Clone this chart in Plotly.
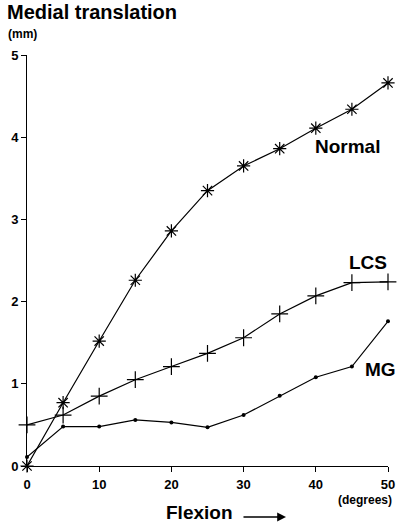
import plotly.graph_objects as go

flexion = [0, 5, 10, 15, 20, 25, 30, 35, 40, 45, 50]
normal = [0.0, 0.77, 1.52, 2.26, 2.86, 3.35, 3.65, 3.86, 4.11, 4.34, 4.66]
lcs = [0.50, 0.62, 0.85, 1.05, 1.21, 1.37, 1.56, 1.85, 2.07, 2.23, 2.24]
mg = [0.11, 0.48, 0.48, 0.56, 0.53, 0.47, 0.62, 0.855, 1.08, 1.21, 1.76]
x_ticks = [0, 10, 20, 30, 40, 50]
y_ticks = [0, 1, 2, 3, 4, 5]

FONT = "Liberation Sans"
L, R, T, B, W, H = 27, 7, 55, 59, 402, 525
PW, PH = W - L - R, H - T - B


def px(xp):
    return (xp - L) / PW


def py(yp):
    return (H - B - yp) / PH


fig = go.Figure()
fig.add_trace(go.Scatter(x=flexion, y=normal, mode="lines+markers",
                         line=dict(color="black", width=1.2),
                         marker=dict(symbol="asterisk-open", size=11,
                                     line=dict(color="black", width=1.2)),
                         cliponaxis=False, name="Normal"))
fig.add_trace(go.Scatter(x=flexion, y=lcs, mode="lines+markers",
                         line=dict(color="black", width=1.2),
                         marker=dict(symbol="cross-thin-open", size=12,
                                     line=dict(color="black", width=1.2)),
                         cliponaxis=False, name="LCS"))
fig.add_trace(go.Scatter(x=flexion, y=mg, mode="lines+markers",
                         line=dict(color="black", width=1.2),
                         marker=dict(symbol="circle", size=4, color="black"),
                         cliponaxis=False, name="MG"))

fig.update_layout(
    width=W, height=H, showlegend=False,
    margin=dict(l=L, r=R, t=T, b=B),
    paper_bgcolor="white", plot_bgcolor="white",
    font=dict(family=FONT, color="black"),
)
fig.update_xaxes(range=[0, 50], tickvals=x_ticks, ticks="outside", ticklen=5,
                 tickwidth=1, tickcolor="black", showline=True, linecolor="black",
                 linewidth=1, showgrid=False, zeroline=False,
                 ticklabeloverflow="allow", ticklabelstandoff=1,
                 tickfont=dict(family=FONT, size=13, weight="bold"))
fig.update_yaxes(range=[0, 5], tickvals=y_ticks, ticks="outside", ticklen=5,
                 tickwidth=1, tickcolor="black", showline=True, linecolor="black",
                 linewidth=1, showgrid=False, zeroline=False,
                 ticklabeloverflow="allow",
                 tickfont=dict(family=FONT, size=13, weight="bold"))

# title texts (paper coords from pixel positions)
fig.add_annotation(text="<b>Medial translation</b>", xref="paper", yref="paper",
                   x=px(5), y=py(12), xanchor="left", yanchor="middle",
                   showarrow=False, font=dict(size=20))
fig.add_annotation(text="<b>(mm)</b>", xref="paper", yref="paper",
                   x=px(6), y=py(34), xanchor="left", yanchor="middle",
                   showarrow=False, font=dict(size=12))
fig.add_annotation(text="<b>(degrees)</b>", xref="paper", yref="paper",
                   x=px(401), y=py(500), xanchor="right", yanchor="middle",
                   showarrow=False, font=dict(size=12))
fig.add_annotation(text="<b>Flexion</b>", xref="paper", yref="paper",
                   x=px(239), y=py(512), xanchor="right", yanchor="middle",
                   showarrow=False, font=dict(size=19))
fig.add_annotation(text="", xref="paper", yref="paper",
                   x=px(291), y=py(517), ax=-44, ay=0, showarrow=True,
                   arrowhead=2, arrowsize=1.1, arrowwidth=1.6,
                   arrowcolor="black", standoff=0)

# series labels
fig.add_annotation(text="<b>Normal</b>", x=44.4, y=3.89, xref="x", yref="y",
                   showarrow=False, font=dict(size=19), xanchor="center", yanchor="middle")
fig.add_annotation(text="<b>LCS</b>", x=47.2, y=2.48, xref="x", yref="y",
                   showarrow=False, font=dict(size=19), xanchor="center", yanchor="middle")
fig.add_annotation(text="<b>MG</b>", x=48.9, y=1.17, xref="x", yref="y",
                   showarrow=False, font=dict(size=19), xanchor="center", yanchor="middle")

fig.write_html("out.html")
